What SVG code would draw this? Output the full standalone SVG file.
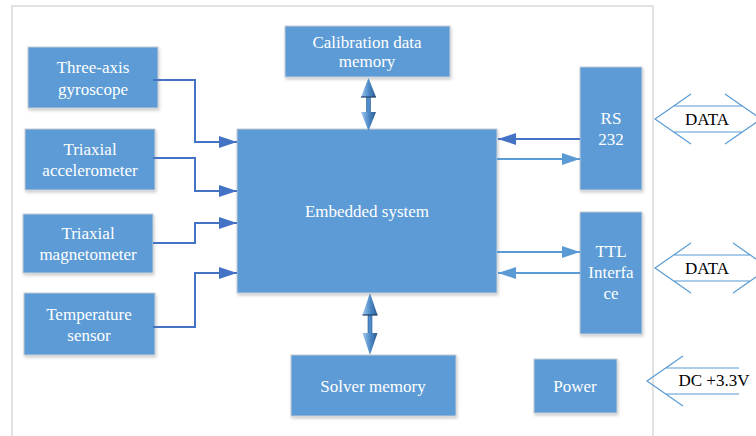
<svg xmlns="http://www.w3.org/2000/svg" width="756" height="436" viewBox="0 0 756 436">
<style>
.box{fill:#5B9BD5;stroke:#c5ccd4;stroke-width:1;filter:url(#sh)}
.bt{font-family:"Liberation Serif","Times New Roman",serif;font-size:17px;fill:#ffffff;text-anchor:middle}
.dt{font-family:"Liberation Serif","Times New Roman",serif;font-size:17px;fill:#000000;text-anchor:middle}
.c1{fill:none;stroke:#4472C4;stroke-width:2}
.c2{fill:none;stroke:#5B9BD5;stroke-width:2}
.io{fill:none;stroke:#5B9BD5;stroke-width:1.2}
.dh{fill:url(#g3d)}
</style>
<defs>
<filter id="sh" x="-10%" y="-10%" width="130%" height="130%">
<feDropShadow dx="1" dy="2" stdDeviation="1.5" flood-color="#000" flood-opacity="0.2"/>
</filter>
<linearGradient id="g3d" x1="0" y1="0" x2="1" y2="0">
<stop offset="0" stop-color="#a3c8ee"/>
<stop offset="0.5" stop-color="#4f8cc9"/>
<stop offset="1" stop-color="#2a5b8f"/>
</linearGradient>
<marker id="a1" markerUnits="userSpaceOnUse" markerWidth="18" markerHeight="12" refX="18" refY="6" orient="auto">
<path d="M0,0 L18,6 L0,12 z" fill="#4472C4"/>
</marker>
<marker id="a2" markerUnits="userSpaceOnUse" markerWidth="18" markerHeight="12" refX="18" refY="6" orient="auto">
<path d="M0,0 L18,6 L0,12 z" fill="#5B9BD5"/>
</marker>
</defs>
<rect width="756" height="436" fill="#ffffff"/>
<path d="M12,440 V6 H653 V440" fill="none" stroke="#d9d9d9" stroke-width="1.5"/>

<g id="gyro"><rect class="box" x="28" y="47" width="130" height="61"/>
<text class="bt" x="93" y="73">Three-axis</text><text class="bt" x="93" y="95">gyroscope</text></g>
<g id="accel"><rect class="box" x="25" y="129" width="130" height="61"/>
<text class="bt" x="90" y="155">Triaxial</text><text class="bt" x="90" y="176">accelerometer</text></g>
<g id="magnet"><rect class="box" x="23" y="214" width="130" height="59"/>
<text class="bt" x="88" y="239">Triaxial</text><text class="bt" x="88" y="260">magnetometer</text></g>
<g id="temp"><rect class="box" x="24" y="293" width="131" height="62"/>
<text class="bt" x="89" y="320">Temperature</text><text class="bt" x="89" y="341">sensor</text></g>
<g id="embedded"><rect class="box" x="237" y="129" width="260" height="164"/>
<text class="bt" x="367" y="217">Embedded system</text></g>
<g id="calib"><rect class="box" x="285" y="26" width="165" height="51"/>
<text class="bt" x="367" y="48">Calibration data</text><text class="bt" x="367" y="67">memory</text></g>
<g id="solver"><rect class="box" x="291" y="355" width="165" height="61"/>
<text class="bt" x="373" y="392">Solver memory</text></g>
<g id="rs232"><rect class="box" x="580" y="67" width="62" height="123"/>
<text class="bt" x="611" y="124">RS</text><text class="bt" x="611" y="145">232</text></g>
<g id="ttl"><rect class="box" x="580" y="212" width="62" height="122"/>
<text class="bt" x="611" y="257">TTL</text><text class="bt" x="611" y="278">Interfa</text><text class="bt" x="611" y="299">ce</text></g>
<g id="power"><rect class="box" x="534" y="359" width="83" height="54"/>
<text class="bt" x="575" y="392">Power</text></g>

<g id="connectors">
<path class="c1" d="M153,80 H195 V142 H237" marker-end="url(#a1)"/>
<path class="c1" d="M153,158 H195 V191 H237" marker-end="url(#a1)"/>
<path class="c1" d="M153,243 H195 V223 H237" marker-end="url(#a1)"/>
<path class="c1" d="M153,327 H195 V273 H237" marker-end="url(#a1)"/>
<path class="c1" d="M580,139 H498" marker-end="url(#a1)"/>
<path class="c2" d="M497,159 H580" marker-end="url(#a2)"/>
<path class="c2" d="M497,252 H580" marker-end="url(#a2)"/>
<path class="c2" d="M580,273 H498" marker-end="url(#a2)"/>
<g id="calib-link">
<rect x="366.5" y="96" width="4" height="17" fill="#4f8cc9" stroke="#2a5b8f" stroke-width="0.6"/>
<polygon class="dh" points="368.5,78 376,97 361,97"/>
<line x1="361" y1="97" x2="376" y2="97" stroke="#1f3f66" stroke-width="1.2"/>
<polygon class="dh" points="361,112 376,112 368.5,131"/>
</g>
<g id="solver-link">
<rect x="368" y="314" width="4" height="20" fill="#4f8cc9" stroke="#2a5b8f" stroke-width="0.6"/>
<polygon class="dh" points="370,293 377.5,315 362.5,315"/>
<line x1="362.5" y1="315" x2="377.5" y2="315" stroke="#1f3f66" stroke-width="1.2"/>
<polygon class="dh" points="362.5,333 377.5,333 370,355"/>
</g>
</g>

<g id="io-data1">
<path class="io" d="M691,94 L655,119 L691,144 M673.7,106 H742.3 M673.7,132 H742.3 M725,94 L761,119 L725,144"/>
<text class="dt" x="707" y="125">DATA</text>
</g>
<g id="io-data2">
<path class="io" d="M691,243 L655,268 L691,293 M673.7,255 H750.3 M673.7,281 H750.3 M733,243 L769,268 L733,293"/>
<text class="dt" x="707" y="274">DATA</text>
</g>
<g id="io-dc">
<path class="io" d="M683,356 L647,381 L683,406 M665.7,368 H739 M665.7,394 H739"/>
<text class="dt" x="714" y="386">DC +3.3V</text>
</g>
</svg>
